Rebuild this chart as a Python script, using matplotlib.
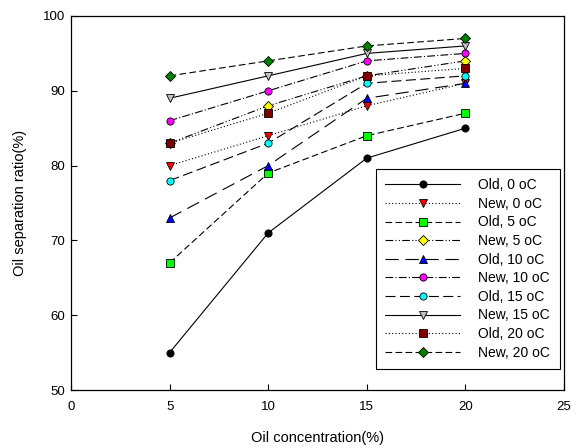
import matplotlib
matplotlib.use('Agg')
import matplotlib.pyplot as plt

plt.rcParams['font.family'] = ['Liberation Sans', 'DejaVu Sans']

conc = [5, 10, 15, 20]

old_0 = [55, 71, 81, 85]
new_0 = [80, 84, 88, 91]
old_5 = [67, 79, 84, 87]
new_5 = [83, 88, 92, 94]
old_10 = [73, 80, 89, 91]
new_10 = [86, 90, 94, 95]
old_15 = [78, 83, 91, 92]
new_15 = [89, 92, 95, 96]
old_20 = [83, 87, 92, 93]
new_20 = [92, 94, 96, 97]

series = [
    ('Old, 0 oC', old_0, '-', 'o', 'black'),
    ('New, 0 oC', new_0, (0, (1, 2)), 'v', 'red'),
    ('Old, 5 oC', old_5, (0, (6, 3)), 's', '#00ff00'),
    ('New, 5 oC', new_5, (0, (7, 2, 1, 2, 1, 2)), 'D', 'yellow'),
    ('Old, 10 oC', old_10, (0, (12, 6)), '^', 'blue'),
    ('New, 10 oC', new_10, (0, (7, 2, 1, 2)), 'o', 'magenta'),
    ('Old, 15 oC', old_15, (0, (9, 4)), 'o', 'cyan'),
    ('New, 15 oC', new_15, '-', 'v', '#c0c0c0'),
    ('Old, 20 oC', old_20, (0, (1, 2)), 's', '#800000'),
    ('New, 20 oC', new_20, (0, (6, 3)), 'D', '#008000'),
]

fig = plt.figure(figsize=(5.77, 4.48), dpi=100)
ax = fig.add_axes([71 / 577, 1 - 390 / 448, (564 - 71) / 577, (390 - 16) / 448])

for label, vals, ls, mk, col in series:
    ms = 4.6 if mk == 'D' else 5.2
    ax.plot(conc, vals, linestyle=ls, color='black', linewidth=0.8,
            marker=mk, markersize=ms, markerfacecolor=col,
            markeredgecolor='black', markeredgewidth=0.6, label=label)

ax.set_xlim(0, 25)
ax.set_ylim(50, 100)
ax.set_xticks([0, 5, 10, 15, 20, 25])
ax.set_yticks([50, 60, 70, 80, 90, 100])
ax.tick_params(direction='in', length=4, width=0.8, labelsize=9.5)
ax.tick_params(axis='x', pad=8)
ax.tick_params(axis='y', pad=4)
for s in ax.spines.values():
    s.set_linewidth(0.9)

ax.set_xlabel('Oil concentration(%)', fontsize=10.5, labelpad=13)
ax.set_ylabel('Oil separation ratio(%)', fontsize=10.5, labelpad=12)

leg = ax.legend(loc='upper right', bbox_to_anchor=(0.992, 0.592), fontsize=10,
                handlelength=5.4, labelspacing=0.33, handletextpad=1.3,
                borderpad=0.7, borderaxespad=0, fancybox=False, framealpha=1,
                edgecolor='black')
leg.get_frame().set_linewidth(0.8)

fig.savefig('out.png', dpi=100)
